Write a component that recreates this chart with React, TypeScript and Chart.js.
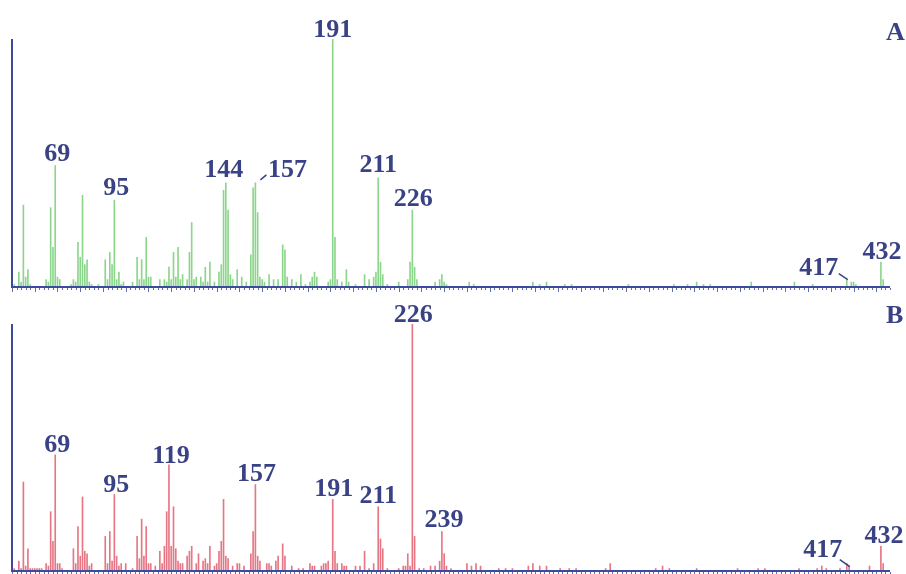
import React, { useEffect, useRef } from "react";
import { Chart, registerables } from "chart.js";

Chart.register(...registerables);

// ---------- data ----------
const X_MIN = 50;
const X_MAX = 436;

// Spectrum A (m/z, relative intensity %)
const mzA = [
  50, 51, 53, 54, 55, 56, 57, 58, 65, 66, 67, 68, 69, 70, 71, 76, 77, 78, 79, 80,
  81, 82, 83, 84, 85, 88, 91, 92, 93, 94, 95, 96, 97, 98, 99, 103, 105, 106, 107, 108,
  109, 110, 111, 115, 117, 118, 119, 120, 121, 122, 123, 124, 125, 127, 128, 129, 130, 131, 133, 134,
  135, 136, 137, 139, 141, 142, 143, 144, 145, 146, 147, 149, 151, 153, 155, 156, 157, 158, 159, 160,
  161, 163, 165, 167, 169, 170, 171, 173, 175, 177, 179, 181, 182, 183, 184, 189, 190, 191, 192, 193,
  195, 197, 198, 201, 205, 207, 209, 210, 211, 212, 213, 215, 220, 224, 225, 226, 227, 228, 236, 238,
  239, 240, 241, 251, 253, 279, 282, 285, 293, 296, 321, 341, 347, 351, 354, 357, 375, 394, 402, 417,
  419, 420, 421, 432, 433,
];
const intA = [
  1, 1, 6, 2, 33, 4, 7, 1, 3, 2, 32, 16, 49, 4, 3, 1, 3, 2, 18, 12,
  37, 9, 11, 2, 1, 1, 11, 3, 14, 9, 35, 3, 6, 1, 2, 2, 12, 3, 11, 3,
  20, 4, 4, 3, 3, 2, 8, 3, 14, 4, 16, 3, 5, 3, 14, 26, 3, 4, 4, 2,
  8, 2, 10, 2, 6, 9, 39, 42, 31, 5, 3, 7, 4, 2, 13, 40, 42, 30, 4, 3,
  2, 5, 3, 3, 17, 15, 4, 3, 2, 5, 1, 2, 4, 6, 4, 2, 3, 100, 20, 3,
  2, 7, 2, 1, 5, 3, 4, 6, 44, 10, 5, 1, 2, 3, 10, 31, 8, 3, 2, 3,
  5, 2, 1, 2, 1, 2, 1, 2, 1, 1, 1, 1, 1, 2, 1, 1, 2, 2, 1, 3,
  2, 2, 1, 10, 3,
];

// Spectrum B (m/z, relative intensity %)
const mzB = [
  50, 51, 53, 54, 55, 56, 57, 58, 59, 60, 61, 62, 63, 65, 66, 67, 68, 69, 70, 71,
  72, 77, 78, 79, 80, 81, 82, 83, 84, 85, 91, 92, 93, 94, 95, 96, 97, 98, 100, 103,
  105, 106, 107, 108, 109, 110, 111, 113, 115, 116, 117, 118, 119, 120, 121, 122, 123, 124, 125, 127,
  128, 129, 131, 132, 134, 135, 136, 137, 139, 140, 141, 142, 143, 144, 145, 147, 149, 150, 152, 155,
  156, 157, 158, 159, 162, 163, 164, 166, 167, 169, 170, 173, 176, 178, 181, 182, 183, 186, 187, 188,
  189, 191, 192, 193, 195, 196, 197, 201, 203, 205, 207, 209, 211, 212, 213, 215, 220, 222, 223, 224,
  225, 226, 227, 229, 231, 234, 236, 238, 239, 240, 241, 243, 250, 252, 254, 256, 264, 267, 270, 277,
  279, 282, 285, 291, 295, 298, 311, 313, 333, 336, 339, 351, 369, 378, 381, 396, 404, 406, 408, 414,
  417, 418, 427, 432, 433,
];
const intB = [
  1, 1, 4, 1, 36, 2, 9, 1, 1, 1, 1, 1, 1, 3, 2, 24, 12, 47, 3, 3,
  1, 9, 3, 18, 6, 30, 8, 7, 2, 3, 14, 3, 16, 4, 31, 6, 2, 3, 3, 1,
  14, 5, 21, 6, 18, 3, 3, 2, 8, 3, 10, 24, 43, 10, 26, 9, 4, 3, 3, 6,
  8, 10, 3, 7, 4, 5, 3, 10, 2, 3, 8, 12, 29, 6, 5, 2, 3, 3, 2, 7,
  16, 35, 6, 4, 3, 3, 2, 4, 6, 11, 6, 2, 1, 1, 3, 2, 2, 2, 3, 3,
  4, 29, 8, 3, 3, 2, 2, 2, 2, 8, 1, 3, 26, 13, 9, 1, 1, 2, 2, 7,
  2, 100, 14, 1, 1, 2, 2, 4, 16, 7, 2, 1, 3, 2, 3, 2, 1, 1, 1, 2,
  3, 2, 2, 1, 1, 1, 1, 3, 1, 2, 1, 1, 1, 1, 1, 1, 1, 2, 1, 1,
  3, 2, 2, 10, 3,
];

// Peaks that carry a label
const labelsA = [69, 95, 144, 157, 191, 211, 226, 417, 432];
const labelsB = [69, 95, 119, 157, 191, 211, 226, 239, 417, 432];

// ---------- style ----------
const GREEN = "rgb(140, 214, 140)";
const RED = "rgb(230, 118, 132)";
const AXIS = "#3d4b9e";
const LABEL = "#3a4286";
const FONT = 'bold 26px "Liberation Serif", "Times New Roman", serif';

type LStyle = { dx: number; dy: number; leader?: [number, number, number, number] };
const labelStyleA: Record<number, LStyle> = {
  69: { dx: 2, dy: -4 },
  95: { dx: 2, dy: -5 },
  144: { dx: -2, dy: -6 },
  157: { dx: 32, dy: -6, leader: [5, -3, 11, -8] },
  191: { dx: 0, dy: -2 },
  211: { dx: 0, dy: -6 },
  226: { dx: 1, dy: -4 },
  417: { dx: -28, dy: -5, leader: [-8, -6, 1, 0] },
  432: { dx: 1, dy: -3 },
};
const labelStyleB: Record<number, LStyle> = {
  69: { dx: 2, dy: -3 },
  95: { dx: 2, dy: -2 },
  119: { dx: 2, dy: -2 },
  157: { dx: 1, dy: -4 },
  191: { dx: 1, dy: -3 },
  211: { dx: 0, dy: -4 },
  226: { dx: 1, dy: -2 },
  239: { dx: 2, dy: -4 },
  417: { dx: -24, dy: -7, leader: [-7, -4, 3, 3] },
  432: { dx: 3, dy: -3 },
};

function makePlugin(
  mz: number[],
  vals: number[],
  labels: number[],
  styles: Record<number, LStyle>,
  panel: string,
  panelY: number
) {
  return {
    id: "spectrumDecor" + panel,
    afterDatasetsDraw(chart: any) {
      const { ctx, chartArea, scales } = chart;
      const x = scales.x;
      const y = scales.y;
      ctx.save();
      // axes
      ctx.strokeStyle = AXIS;
      ctx.lineWidth = 2;
      ctx.beginPath();
      ctx.moveTo(chartArea.left, chartArea.top);
      ctx.lineTo(chartArea.left, chartArea.bottom);
      ctx.lineTo(chartArea.right, chartArea.bottom);
      ctx.stroke();
      // tick marks
      ctx.lineWidth = 1;
      ctx.globalAlpha = 0.8;
      for (let v = X_MIN; v <= X_MAX; v += 2) {
        const px = Math.round(x.getPixelForValue(v)) + 0.5;
        const len = v % 10 === 0 ? 4 : 2;
        ctx.beginPath();
        ctx.moveTo(px, chartArea.bottom + 1);
        ctx.lineTo(px, chartArea.bottom + 1 + len);
        ctx.stroke();
      }
      ctx.globalAlpha = 1;
      // peak labels
      ctx.fillStyle = LABEL;
      ctx.strokeStyle = LABEL;
      ctx.font = FONT;
      ctx.textAlign = "center";
      ctx.textBaseline = "alphabetic";
      for (const m of labels) {
        const i = mz.indexOf(m);
        if (i < 0) continue;
        const st = styles[m] || { dx: 0, dy: -4 };
        const bx = x.getPixelForValue(m);
        const by = y.getPixelForValue(vals[i]);
        ctx.fillText(String(m), bx + st.dx, by + st.dy);
        if (st.leader) {
          const [x1, y1, x2, y2] = st.leader;
          ctx.lineWidth = 1.5;
          ctx.beginPath();
          ctx.moveTo(bx + x1, by + y1);
          ctx.lineTo(bx + x2, by + y2);
          ctx.stroke();
        }
      }
      // panel letter
      ctx.textAlign = "left";
      ctx.fillText(panel, 886, panelY);
      ctx.restore();
    },
  };
}

function buildConfig(
  mz: number[],
  vals: number[],
  color: string,
  padding: { top: number; bottom: number; left: number; right: number },
  plugin: any
): any {
  return {
    type: "bar",
    data: {
      datasets: [
        {
          data: mz.map((m, i) => ({ x: m, y: vals[i] })),
          backgroundColor: color,
          borderWidth: 0,
          barThickness: 1,
        },
      ],
    },
    options: {
      animation: false,
      responsive: false,
      layout: { padding },
      plugins: { legend: { display: false }, tooltip: { enabled: false } },
      scales: {
        x: {
          type: "linear",
          min: X_MIN,
          max: X_MAX,
          offset: false,
          display: false,
          grid: { offset: false },
        },
        y: { type: "linear", min: 0, max: 100, display: false },
      },
    },
    plugins: [plugin],
  };
}

export default function App() {
  const refA = useRef<HTMLCanvasElement>(null);
  const refB = useRef<HTMLCanvasElement>(null);

  useEffect(() => {
    const chartA = new Chart(
      refA.current as HTMLCanvasElement,
      buildConfig(
        mzA,
        intA,
        GREEN,
        { top: 39, bottom: 13, left: 12, right: 16 },
        makePlugin(mzA, intA, labelsA, labelStyleA, "A", 40)
      )
    );
    const chartB = new Chart(
      refB.current as HTMLCanvasElement,
      buildConfig(
        mzB,
        intB,
        RED,
        { top: 24, bottom: 3, left: 12, right: 16 },
        makePlugin(mzB, intB, labelsB, labelStyleB, "B", 23)
      )
    );
    return () => {
      chartA.destroy();
      chartB.destroy();
    };
  }, []);

  return (
    <div
      style={{
        position: "absolute",
        left: 0,
        top: 0,
        width: 906,
        height: 574,
        background: "#ffffff",
        overflow: "hidden",
      }}
    >
      <canvas
        ref={refA}
        width={906}
        height={300}
        style={{ position: "absolute", left: 0, top: 0, width: 906, height: 300 }}
      />
      <canvas
        ref={refB}
        width={906}
        height={274}
        style={{ position: "absolute", left: 0, top: 300, width: 906, height: 274 }}
      />
    </div>
  );
}
